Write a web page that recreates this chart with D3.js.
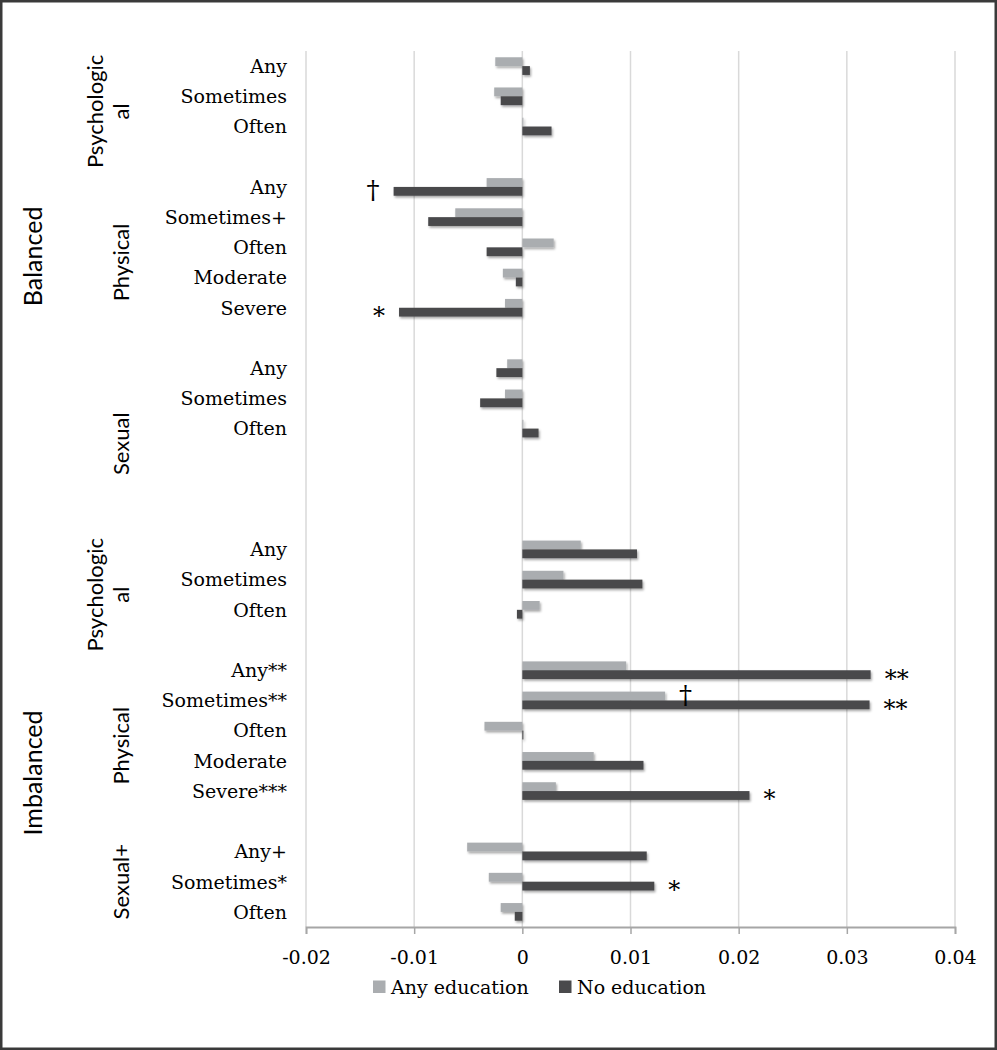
<!DOCTYPE html>
<html>
<head>
<meta charset="utf-8">
<script src="https://cdnjs.cloudflare.com/ajax/libs/d3/7.8.5/d3.min.js"></script>
<style>
  html, body { margin: 0; padding: 0; background: #fff; }
  svg { display: block; }
</style>
</head>
<body>
<svg id="chart" width="997" height="1050"></svg>
<script>
// ---------- data ----------
const rowLabels = [
  "Any", "Sometimes", "Often", "",
  "Any", "Sometimes+", "Often", "Moderate", "Severe", "",
  "Any", "Sometimes", "Often", "", "", "",
  "Any", "Sometimes", "Often", "",
  "Any**", "Sometimes**", "Often", "Moderate", "Severe***", "",
  "Any+", "Sometimes*", "Often"
];
const seriesNames = ["Any education", "No education"];
const anyEducation = [
  -0.0025, -0.0026, 0.0001, null,
  -0.0033, -0.0062, 0.0029, -0.0018, -0.0016, null,
  -0.0014, -0.0016, 0.0001, null, null, null,
  0.0054, 0.0038, 0.0016, null,
  0.0096, 0.0132, -0.0035, 0.0066, 0.0031, null,
  -0.0051, -0.0031, -0.0020
];
const noEducation = [
  0.0007, -0.0020, 0.0027, null,
  -0.0119, -0.0087, -0.0033, -0.0006, -0.0114, null,
  -0.0024, -0.0039, 0.0015, null, null, null,
  0.0106, 0.0111, -0.0005, null,
  0.0322, 0.0321, 0.0001, 0.0112, 0.0210, null,
  0.0115, 0.0122, -0.0007
];
const xTicks = [-0.02, -0.01, 0, 0.01, 0.02, 0.03, 0.04];
const xTickLabels = ["-0.02", "-0.01", "0", "0.01", "0.02", "0.03", "0.04"];
// second-level groups (row index ranges)
const subGroups = [
  { lines: ["Psychologic", "al"], from: 0, to: 3 },
  { lines: ["Physical"], from: 4, to: 9 },
  { lines: ["Sexual"], from: 10, to: 15 },
  { lines: ["Psychologic", "al"], from: 16, to: 19 },
  { lines: ["Physical"], from: 20, to: 25 },
  { lines: ["Sexual+"], from: 26, to: 28 }
];
const topGroups = ["Balanced", "Imbalanced"];
// significance markers: row, series, symbol
const markers = [
  { row: 4, series: "No education", text: "\u2020" },
  { row: 8, series: "No education", text: "*" },
  { row: 20, series: "No education", text: "**" },
  { row: 21, series: "Any education", text: "\u2020" },
  { row: 21, series: "No education", text: "**" },
  { row: 24, series: "No education", text: "*" },
  { row: 27, series: "No education", text: "*" }
];

// ---------- layout ----------
const svg = d3.select("#chart");
const W = 997, H = 1050;
const plot = { left: 306, right: 955, top: 51, bottom: 927 };
const serif = "'DejaVu Serif', serif";
const sans = "Lato, 'Open Sans', sans-serif";
const colors = { "Any education": "#aaadb0", "No education": "#4a4a4c" };

const rows = rowLabels.map((d, i) => i);
const x = d3.scaleLinear().domain([-0.02, 0.04]).range([plot.left, plot.right]);
const y = d3.scaleBand().domain(rows).range([plot.top, plot.bottom]).paddingInner(0).paddingOuter(0);
const ySub = d3.scaleBand().domain(seriesNames).range([0, y.bandwidth()]).paddingInner(0).paddingOuter(0.71);

const valuesBySeries = { "Any education": anyEducation, "No education": noEducation };

// frame
svg.append("rect")
  .attr("x", 1.25).attr("y", 1.25).attr("width", W - 2.5).attr("height", H - 2.5)
  .attr("fill", "#fff").attr("stroke", "#3a3a3a").attr("stroke-width", 2.5);

// shadow filter
const defs = svg.append("defs");
const f = defs.append("filter").attr("id", "shadow").attr("x", "-20%").attr("y", "-50%").attr("width", "140%").attr("height", "220%");
f.append("feDropShadow").attr("dx", 1.2).attr("dy", 1.8).attr("stdDeviation", 1.2)
  .attr("flood-color", "#000").attr("flood-opacity", 0.35);

// gridlines
svg.append("g").selectAll("line").data(xTicks).join("line")
  .attr("x1", d => x(d)).attr("x2", d => x(d))
  .attr("y1", plot.top).attr("y2", plot.bottom)
  .attr("stroke", "#d9d9d9").attr("stroke-width", 1.5);

// bars
const barData = [];
seriesNames.forEach(s => {
  valuesBySeries[s].forEach((v, i) => {
    if (v !== null) barData.push({ row: i, series: s, value: v });
  });
});
svg.append("g").attr("filter", "url(#shadow)")
  .selectAll("rect").data(barData).join("rect")
  .attr("x", d => Math.min(x(0), x(d.value)))
  .attr("width", d => Math.max(1, Math.abs(x(d.value) - x(0))))
  .attr("y", d => y(d.row) + ySub(d.series))
  .attr("height", ySub.bandwidth())
  .attr("fill", d => colors[d.series]);

// x axis
const xAxis = d3.axisBottom(x).tickValues(xTicks).tickSize(7)
  .tickFormat((d, i) => xTickLabels[i]);
const gx = svg.append("g").attr("transform", `translate(0,${plot.bottom})`).call(xAxis);
gx.select(".domain").attr("stroke", "#a6a6a6").attr("stroke-width", 1.8);
gx.selectAll(".tick line").attr("stroke", "#a6a6a6").attr("stroke-width", 1.5);
gx.selectAll(".tick text").attr("font-family", serif).attr("font-size", 19)
  .attr("fill", "#000").attr("y", 37).attr("dy", 0);

// category labels
svg.append("g").selectAll("text").data(rows.filter(i => rowLabels[i] !== "")).join("text")
  .attr("x", 287)
  .attr("y", i => y(i) + y.bandwidth() / 2)
  .attr("dy", "0.36em")
  .attr("text-anchor", "end")
  .attr("font-family", serif).attr("font-size", 19).attr("fill", "#000")
  .text(i => rowLabels[i]);

// sub-group labels (rotated)
subGroups.forEach(g => {
  const cy = (y(g.from) + y(g.to) + y.bandwidth()) / 2;
  const n = g.lines.length;
  g.lines.forEach((line, li) => {
    const bx = 129 - (n - 1 - li) * 26;
    svg.append("text")
      .attr("transform", `translate(${bx},${cy}) rotate(-90)`)
      .attr("text-anchor", "middle")
      .attr("font-family", sans).attr("font-size", 22).attr("fill", "#000")
      .text(line);
  });
});

// top-level labels
const topCenters = [6.8, 23.9]; // in row units from top of plot
topGroups.forEach((t, i) => {
  const cy = plot.top + topCenters[i] * y.step();
  svg.append("text")
    .attr("transform", `translate(42,${cy}) rotate(-90)`)
    .attr("text-anchor", "middle")
    .attr("font-family", sans).attr("font-size", 25).attr("fill", "#000")
    .text(t);
});

// significance markers
svg.append("g").selectAll("text").data(markers).join("text")
  .each(function (d) {
    const v = valuesBySeries[d.series][d.row];
    const end = x(v);
    const cy = y(d.row) + ySub(d.series) + ySub.bandwidth() / 2;
    const pos = v >= 0;
    const isStar = d.text.indexOf("*") >= 0;
    d3.select(this)
      .attr("x", pos ? end + 14 : end - 14)
      .attr("y", cy + (isStar ? 12 : 8))
      .attr("text-anchor", pos ? "start" : "end")
      .attr("font-family", serif).attr("font-size", isStar ? 24 : 26).attr("fill", "#000")
      .text(d.text);
  });

// legend
const legend = svg.append("g");
const legendX = [373, 559];
seriesNames.forEach((s, i) => {
  legend.append("rect").attr("x", legendX[i]).attr("y", 980.5).attr("width", 12.5).attr("height", 12.5)
    .attr("fill", colors[s]);
  legend.append("text").attr("x", legendX[i] + 18).attr("y", 986.7).attr("dy", "0.36em")
    .attr("font-family", serif).attr("font-size", 19).attr("fill", "#000").text(s);
});
</script>
</body>
</html>
